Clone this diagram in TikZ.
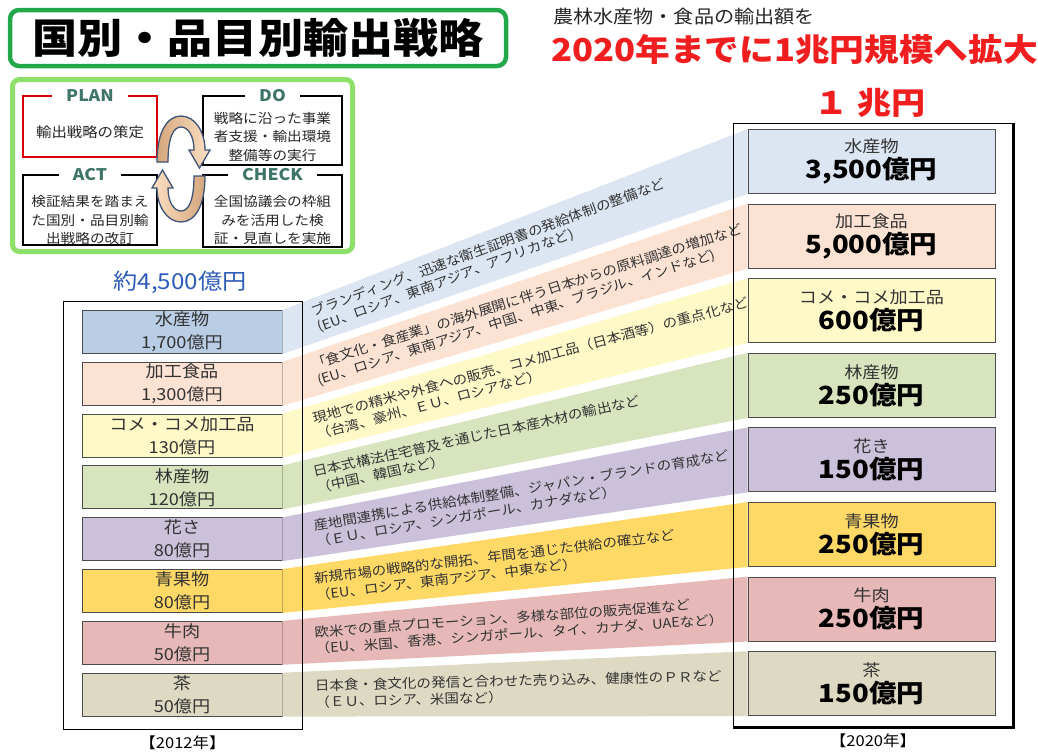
\documentclass[tikz,border=0pt]{standalone}
\usepackage{fontspec}
\setmainfont{Noto Sans CJK JP}[FakeStretch=1.1]
\usetikzlibrary{positioning}

\definecolor{c1}{HTML}{DCE6F2}
\definecolor{c1l}{HTML}{B9CDE5}
\definecolor{c2}{HTML}{FBE2D3}
\definecolor{c3}{HTML}{FFF9C8}
\definecolor{c4}{HTML}{D7E4BD}
\definecolor{c5}{HTML}{CCC1DA}
\definecolor{c6}{HTML}{FFD966}
\definecolor{c7}{HTML}{E6B9B8}
\definecolor{c8}{HTML}{DDD9C3}
\definecolor{titlegreen}{HTML}{22A84A}
\definecolor{limegreen}{HTML}{8FE06A}
\definecolor{pdcateal}{HTML}{3F7468}
\definecolor{redtxt}{HTML}{F01E1E}
\definecolor{bluetxt}{HTML}{2D5CB8}
\definecolor{arrowtan}{HTML}{D4A67C}
\definecolor{arrowlight}{HTML}{FCE0C4}
\definecolor{arrowline}{HTML}{3E5478}

\tikzset{
	lbox/.style={draw=black!70, line width=0.9pt, minimum width=200pt, minimum height=43pt, inner sep=0pt, align=center, text=black!80, font=\fontsize{16.5}{23}\selectfont},
	rbox/.style={draw=black!70, line width=0.9pt, minimum width=247pt, minimum height=64pt, inner sep=0pt, align=center, font=\fontsize{25}{26}\selectfont},
	bandtext/.style={inner sep=0pt, align=left, text=black!80, font=\fontsize{13.2}{16.5}\selectfont},
	frame/.style={draw=black, line width=1pt},
	pdcabox/.style={draw=black, line width=1.4pt},
	pdcatitle/.style={fill=white, inner xsep=14pt, inner ysep=0pt, text=pdcateal, font=\fontsize{16}{16}\selectfont\bfseries},
	pdcatext/.style={inner sep=0pt, align=center, text=black!85, font=\fontsize{13.3}{18.5}\selectfont},
	yeartext/.style={inner sep=0pt, font=\fontsize{15}{15}\selectfont}
}

\begin{document}
\begin{tikzpicture}[x=1pt, y=-1pt]
	\fill[white] (0,0) rectangle (1038,753);
	\useasboundingbox (0,0) rectangle (1038,753);

	\node (title) [draw=titlegreen, line width=4.5pt, rounded corners=9pt, minimum width=496pt, minimum height=56pt, font=\fontsize{41}{41}\selectfont\bfseries] at (258,38) {国別・品目別輸出戦略};

	\node (pdca) [draw=limegreen, line width=5pt, rounded corners=7pt, minimum width=340pt, minimum height=172pt] at (182.5,165.5) {};
	\node (plan) [pdcabox, draw=red!85!black, minimum width=134pt, minimum height=61pt] at (90,126.5) {};
	\node (do) [pdcabox, minimum width=139pt, minimum height=69pt] at (272.5,130.5) {};
	\node (act) [pdcabox, minimum width=134pt, minimum height=70pt] at (90,210) {};
	\node (check) [pdcabox, minimum width=139pt, minimum height=72pt] at (272.5,211) {};
	\node [pdcatitle] at (plan.north) {PLAN};
	\node [pdcatitle] at (do.north) {DO};
	\node [pdcatitle] at (act.north) {ACT};
	\node [pdcatitle] at (check.north) {CHECK};
	\node (plantxt) [pdcatext, yshift=-6pt, font=\fontsize{14}{18.5}\selectfont] at (plan.center) {輸出戦略の策定};
	\node (dotxt) [pdcatext, yshift=-6pt] at (do.center) {戦略に沿った事業\\者支援・輸出環境\\整備等の実行};
	\node (acttxt) [pdcatext, yshift=-10pt] at (act.center) {検証結果を踏まえ\\た国別・品目別輸\\出戦略の改訂};
	\node (checktxt) [pdcatext, yshift=-9pt] at (check.center) {全国協議会の枠組\\みを活用した検\\証・見直しを実施};

	\draw[arrowline, line width=1.3pt, left color=arrowtan, right color=arrowlight] (157,162) .. controls (157,132) and (167,116) .. (181,116) .. controls (195,116) and (205,132) .. (205,150) -- (210,150) -- (199.5,168) -- (189,150) -- (194,150) .. controls (194,136) and (188,127) .. (181,127) .. controls (174,127) and (168,136) .. (168,162) -- cycle;
	\begin{scope}[rotate around={180:(181,169)}]
		\draw[arrowline, line width=1.3pt, left color=arrowlight, right color=arrowtan] (157,162) .. controls (157,132) and (167,116) .. (181,116) .. controls (195,116) and (205,132) .. (205,150) -- (210,150) -- (199.5,168) -- (189,150) -- (194,150) .. controls (194,136) and (188,127) .. (181,127) .. controls (174,127) and (168,136) .. (168,162) -- cycle;
	\end{scope}

	\node (lead) [anchor=west, inner sep=0pt, text=black!85, font=\fontsize{18.3}{18.3}\selectfont] at (553,17) {農林水産物・食品の輸出額を};
	\node (goal) [anchor=west, inner sep=0pt, text=redtxt, font=\fontsize{31.5}{31.5}\selectfont\bfseries] at (551,50) {2020年までに1兆円規模へ拡大};
	\node (total20) [inner sep=0pt, text=redtxt, font=\fontsize{31}{31}\selectfont\bfseries] at (870,103) {１\hspace{0.3em}兆円};
	\node (total12) [inner sep=0pt, text=bluetxt, font=\fontsize{22}{22}\selectfont] at (180,282) {約4,500億円};

	\foreach \i/\lc/\ln/\rn/\lv/\rv in {
		1/c1l/水産物/水産物/{1,700億円}/{3,500億円},
		2/c2/加工食品/加工食品/{1,300億円}/{5,000億円},
		3/c3/コメ・コメ加工品/コメ・コメ加工品/130億円/600億円,
		4/c4/林産物/林産物/120億円/250億円,
		5/c5/花さ/花き/80億円/150億円,
		6/c6/青果物/青果物/80億円/250億円,
		7/c7/牛肉/牛肉/50億円/250億円,
		8/c8/茶/茶/50億円/150億円}{
		\node[lbox, fill=\lc] (l\i) at (182,280.2+51.8*\i) {\ln\\\lv};
		\node[rbox, fill=c\i] (r\i) at (871.5,86.9+74.6*\i) {{\fontsize{16.5}{16.5}\selectfont\color{black!80}\rn}\\\textbf{\rv}};
	}

	\foreach \i in {1,...,8}
		\fill[c\i] (l\i.north east) -- (r\i.north west) -- (r\i.south west) -- (l\i.south east) -- cycle;

	\foreach \i/\txt in {
		1/{ブランディング、迅速な衛生証明書の発給体制の整備など\\(EU、ロシア、東南アジア、アフリカなど)},
		2/{「食文化・食産業」の海外展開に伴う日本からの原料調達の増加など\\(EU、ロシア、東南アジア、中国、中東、ブラジル、インドなど)},
		3/{現地での精米や外食への販売、コメ加工品（日本酒等）の重点化など\\（台湾、豪州、ＥＵ、ロシアなど）},
		4/{日本式構法住宅普及を通じた日本産木材の輸出など\\（中国、韓国など）},
		5/{産地間連携による供給体制整備、ジャパン・ブランドの育成など\\（ＥＵ、ロシア、シンガポール、カナダなど）},
		6/{新規市場の戦略的な開拓、年間を通じた供給の確立など\\（EU、ロシア、東南アジア、中東など）},
		7/{欧米での重点プロモーション、多様な部位の販売促進など\\（EU、米国、香港、シンガポール、タイ、カナダ、UAEなど）},
		8/{日本食・食文化の発信と合わせた売り込み、健康性のＰＲなど\\（ＥＵ、ロシア、米国など）}}
		\path (l\i.east) -- (r\i.west) node[bandtext, pos=0.07, sloped, anchor=west] {\txt};

	\node (frameL) [frame, minimum width=239pt, minimum height=428pt] at (182.5,515) {};
	\node (frameR) [frame, minimum width=280pt, minimum height=604pt] at (873,425) {};
	\draw[line width=2.4pt] (frameR.north east) -- (frameR.south east) -- (frameR.south west);
	\node (year12) [yeartext, below=6pt of frameL] {【2012年】};
	\node (year20) [yeartext, below=6pt of frameR] {【2020年】};
\end{tikzpicture}
\end{document}
